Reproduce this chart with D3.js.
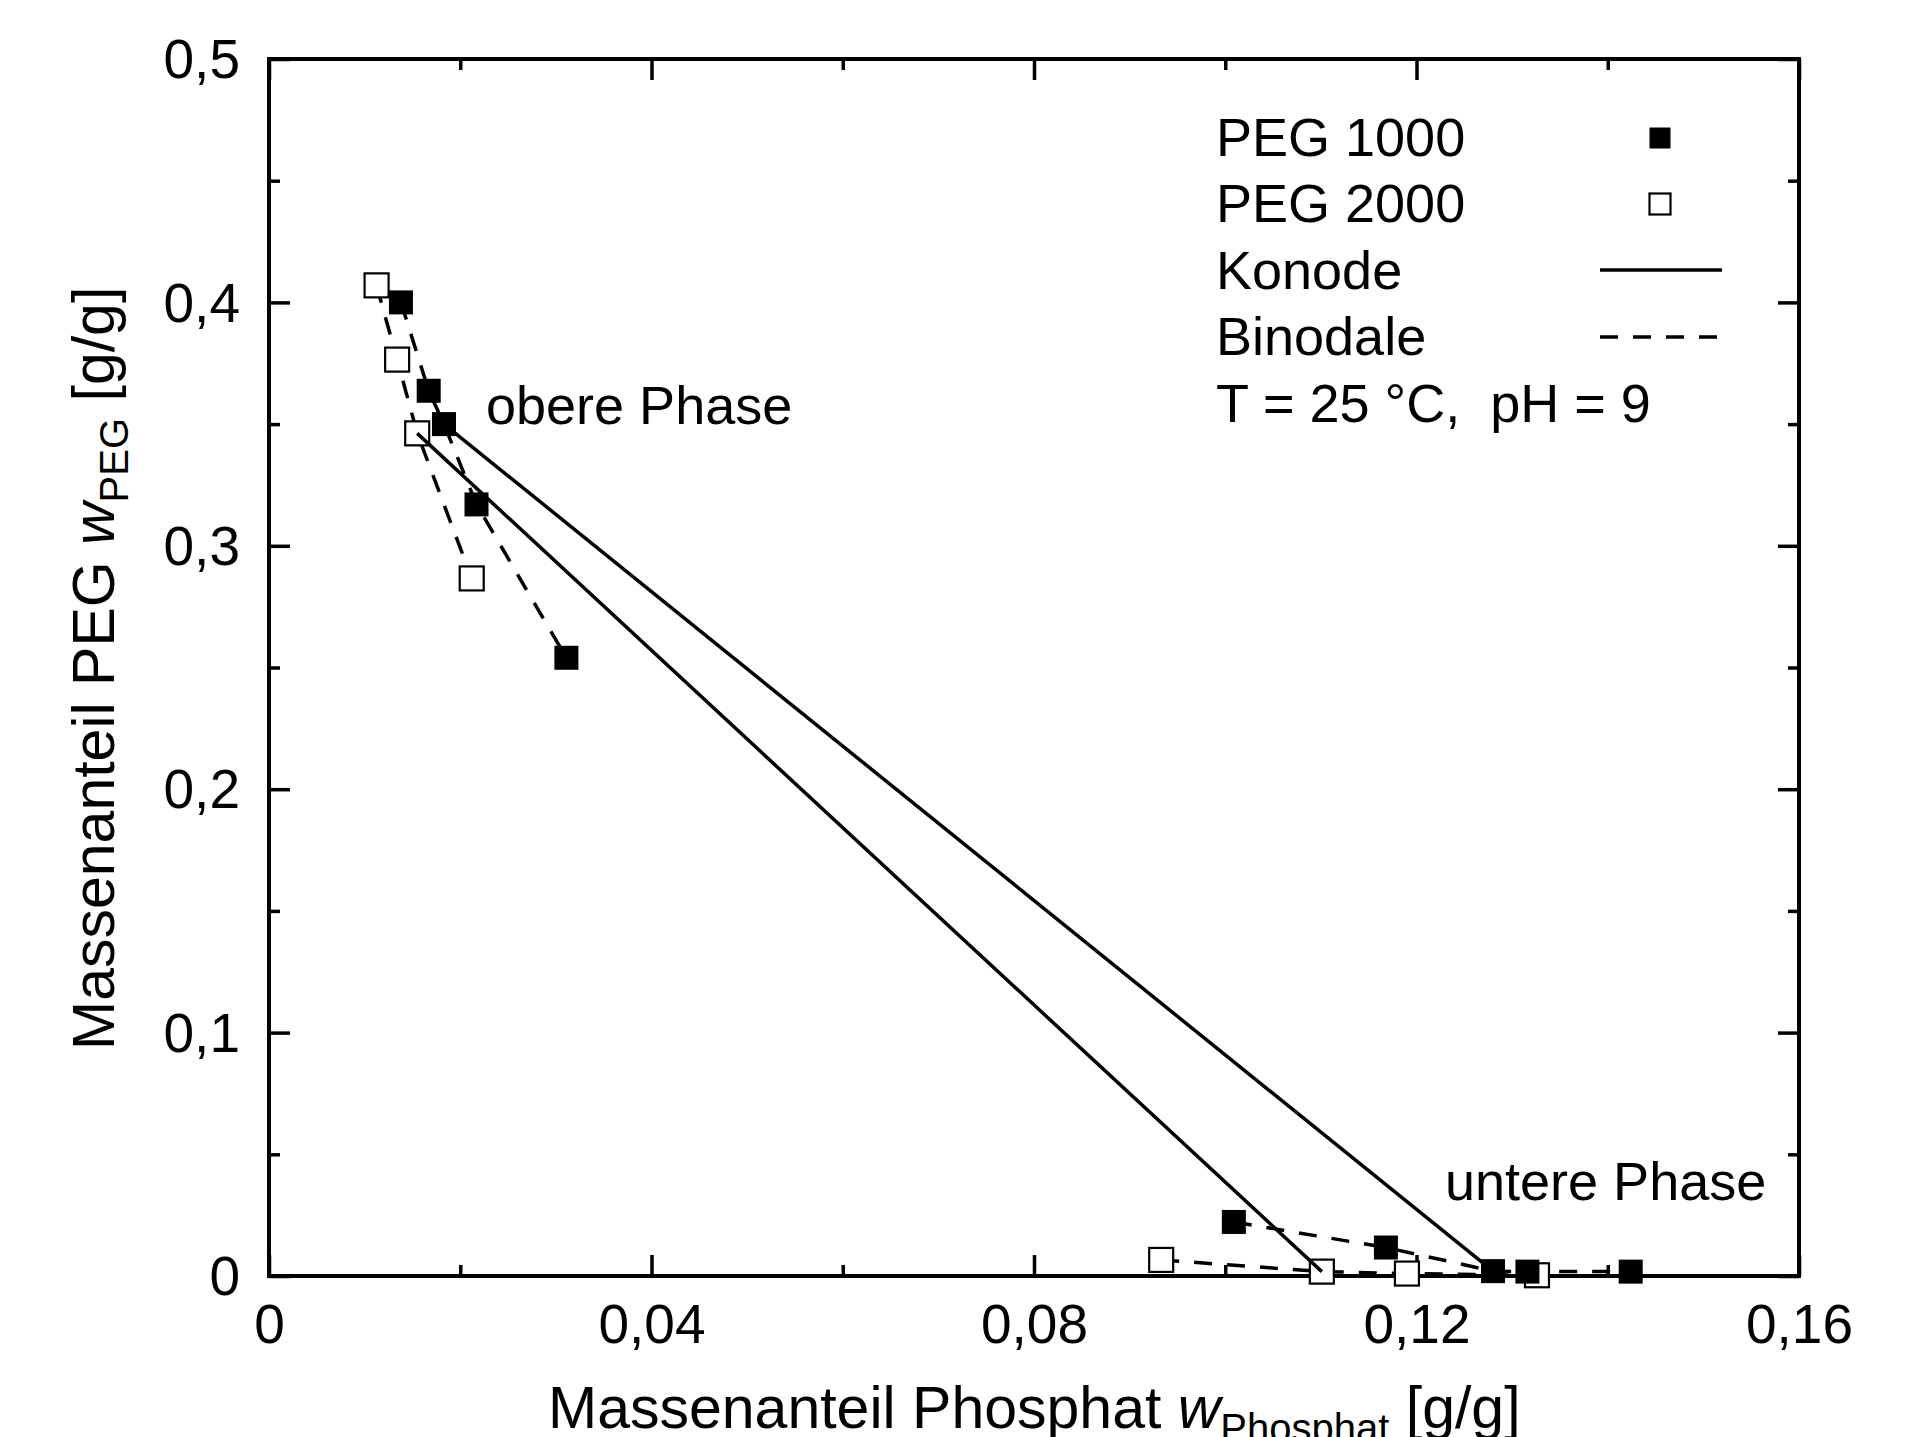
<!DOCTYPE html>
<html>
<head>
<meta charset="utf-8">
<script src="https://cdn.jsdelivr.net/npm/d3@7"></script>
<style>
  html, body { margin: 0; padding: 0; background: #fff; }
  text { font-family: "Liberation Sans", Arial, sans-serif; fill: #000; }
</style>
</head>
<body>
<svg id="chart" width="1915" height="1437"></svg>
<script>
// ---- data ----
const peg1000UpperX = [0.0138, 0.0167, 0.0183, 0.0217, 0.0311];
const peg1000UpperY = [0.400, 0.3637, 0.350, 0.317, 0.254];
const peg1000LowerX = [0.1009, 0.1168, 0.1280, 0.1316, 0.1424];
const peg1000LowerY = [0.0222, 0.0117, 0.0020, 0.0018, 0.0018];
const peg2000UpperX = [0.01125, 0.0134, 0.0155, 0.0212];
const peg2000UpperY = [0.407, 0.3765, 0.3462, 0.2866];
const peg2000LowerX = [0.0933, 0.1101, 0.1190, 0.1326];
const peg2000LowerY = [0.0066, 0.0018, 0.0010, 0.0003];
// tie lines (Konode): [upper index, lower index]
const konode1000 = [2, 2];
const konode2000 = [2, 1];

const xMajorTicks = [0, 0.04, 0.08, 0.12, 0.16];
const xTickLabels = ["0", "0,04", "0,08", "0,12", "0,16"];
const xMinorTicks = [0.02, 0.06, 0.10, 0.14];
const yMajorTicks = [0, 0.1, 0.2, 0.3, 0.4, 0.5];
const yTickLabels = ["0", "0,1", "0,2", "0,3", "0,4", "0,5"];
const yMinorTicks = [0.05, 0.15, 0.25, 0.35, 0.45];

const legendLabels = ["PEG 1000", "PEG 2000", "Konode", "Binodale"];
const conditionLabel = "T = 25 °C,  pH = 9";

// ---- layout ----
const L = 269, R = 1799, T = 59, B = 1276;
const svg = d3.select("#chart");
const x = d3.scaleLinear().domain([0, 0.16]).range([L, R]);
const y = d3.scaleLinear().domain([0, 0.5]).range([B, T]);

const zip = (xs, ys) => xs.map((v, i) => [v, ys[i]]);
const p1000u = zip(peg1000UpperX, peg1000UpperY);
const p1000l = zip(peg1000LowerX, peg1000LowerY);
const p2000u = zip(peg2000UpperX, peg2000UpperY);
const p2000l = zip(peg2000LowerX, peg2000LowerY);

const line = d3.line().x(d => x(d[0])).y(d => y(d[1]));
const dash = "18,15";
const MAJ = 21, MIN = 11;
const TICKFS = 55;

// ---- axes (ticks inward on all four sides) ----
function styleAxis(g) {
  g.select(".domain").remove();
  g.selectAll(".tick line").attr("stroke", "#000").attr("stroke-width", 3.5);
}
// bottom
svg.append("g").attr("transform", `translate(0,${B})`)
  .call(d3.axisBottom(x).tickValues(xMajorTicks).tickSize(-MAJ).tickPadding(MAJ + 22)
        .tickFormat((d, i) => xTickLabels[i]))
  .call(styleAxis)
  .call(g => g.selectAll("text").attr("font-size", TICKFS).attr("dy", 0)
        .attr("y", 67).style("font-family", "Liberation Sans, Arial, sans-serif"));
svg.append("g").attr("transform", `translate(0,${B})`)
  .call(d3.axisBottom(x).tickValues(xMinorTicks).tickSize(-MIN).tickFormat(""))
  .call(styleAxis);
// top
svg.append("g").attr("transform", `translate(0,${T})`)
  .call(d3.axisTop(x).tickValues(xMajorTicks).tickSize(-MAJ).tickFormat(""))
  .call(styleAxis);
svg.append("g").attr("transform", `translate(0,${T})`)
  .call(d3.axisTop(x).tickValues(xMinorTicks).tickSize(-MIN).tickFormat(""))
  .call(styleAxis);
// left
svg.append("g").attr("transform", `translate(${L},0)`)
  .call(d3.axisLeft(y).tickValues(yMajorTicks).tickSize(-MAJ).tickPadding(29)
        .tickFormat((d, i) => yTickLabels[i]))
  .call(styleAxis)
  .call(g => g.selectAll("text").attr("font-size", TICKFS).attr("dy", "0.34em")
        .style("font-family", "Liberation Sans, Arial, sans-serif"));
svg.append("g").attr("transform", `translate(${L},0)`)
  .call(d3.axisLeft(y).tickValues(yMinorTicks).tickSize(-MIN).tickFormat(""))
  .call(styleAxis);
// right
svg.append("g").attr("transform", `translate(${R},0)`)
  .call(d3.axisRight(y).tickValues(yMajorTicks).tickSize(-MAJ).tickFormat(""))
  .call(styleAxis);
svg.append("g").attr("transform", `translate(${R},0)`)
  .call(d3.axisRight(y).tickValues(yMinorTicks).tickSize(-MIN).tickFormat(""))
  .call(styleAxis);

// frame
svg.append("rect").attr("x", L).attr("y", T).attr("width", R - L).attr("height", B - T)
  .attr("fill", "none").attr("stroke", "#000").attr("stroke-width", 4);

// ---- binodal curves (dashed) ----
[p1000u, p2000u, p1000l, p2000l].forEach(pts => {
  svg.append("path").attr("d", line(pts)).attr("fill", "none")
    .attr("stroke", "#000").attr("stroke-width", 3.5).attr("stroke-dasharray", dash);
});

// ---- markers ----
const S = 24;
svg.append("g").selectAll("rect").data(p2000u.concat(p2000l)).join("rect")
  .attr("x", d => x(d[0]) - S / 2).attr("y", d => y(d[1]) - S / 2)
  .attr("width", S).attr("height", S)
  .attr("fill", "#fff").attr("stroke", "#000").attr("stroke-width", 2.2);
svg.append("g").selectAll("rect").data(p1000u.concat(p1000l)).join("rect")
  .attr("x", d => x(d[0]) - S / 2).attr("y", d => y(d[1]) - S / 2)
  .attr("width", S).attr("height", S).attr("fill", "#000");

// ---- tie lines (Konode) ----
[[p1000u[konode1000[0]], p1000l[konode1000[1]]],
 [p2000u[konode2000[0]], p2000l[konode2000[1]]]].forEach(pts => {
  svg.append("path").attr("d", line(pts)).attr("fill", "none")
    .attr("stroke", "#000").attr("stroke-width", 3.5);
});

// ---- annotations ----
svg.append("text").attr("x", 486).attr("y", 424).attr("font-size", 54).text("obere Phase");
svg.append("text").attr("x", 1445).attr("y", 1200).attr("font-size", 54).text("untere Phase");

// ---- legend ----
const legX = 1216, legBase = [156, 222, 289, 355], symX = 1660;
legendLabels.forEach((t, i) => {
  svg.append("text").attr("x", legX).attr("y", legBase[i]).attr("font-size", 54).text(t);
});
svg.append("text").attr("x", legX).attr("y", 422).attr("font-size", 54)
  .style("white-space", "pre").text(conditionLabel);
const LS = 21;
svg.append("rect").attr("x", symX - LS / 2).attr("y", 138 - LS / 2)
  .attr("width", LS).attr("height", LS).attr("fill", "#000");
svg.append("rect").attr("x", symX - LS / 2).attr("y", 204 - LS / 2)
  .attr("width", LS).attr("height", LS).attr("fill", "#fff")
  .attr("stroke", "#000").attr("stroke-width", 2.2);
svg.append("line").attr("x1", 1600).attr("x2", 1722).attr("y1", 270).attr("y2", 270)
  .attr("stroke", "#000").attr("stroke-width", 3.5);
svg.append("line").attr("x1", 1600).attr("x2", 1722).attr("y1", 337).attr("y2", 337)
  .attr("stroke", "#000").attr("stroke-width", 3.5).attr("stroke-dasharray", dash);

// ---- axis titles ----
const xt = svg.append("text").attr("x", 548).attr("y", 1428).attr("font-size", 59)
  .style("white-space", "pre");
xt.append("tspan").text("Massenanteil Phosphat ");
xt.append("tspan").attr("font-style", "italic").text("w");
xt.append("tspan").attr("font-size", 40).attr("dy", 14).text("Phosphat");
xt.append("tspan").attr("dy", -14).text(" [g/g]");

const yt = svg.append("text").attr("transform", "translate(114,1050) rotate(-90)")
  .attr("x", 0).attr("y", 0).attr("font-size", 59).style("white-space", "pre");
yt.append("tspan").text("Massenanteil PEG ");
yt.append("tspan").attr("font-style", "italic").text("w");
yt.append("tspan").attr("font-size", 40).attr("dy", 14).text("PEG");
yt.append("tspan").attr("dy", -14).text(" [g/g]");
</script>
</body>
</html>
